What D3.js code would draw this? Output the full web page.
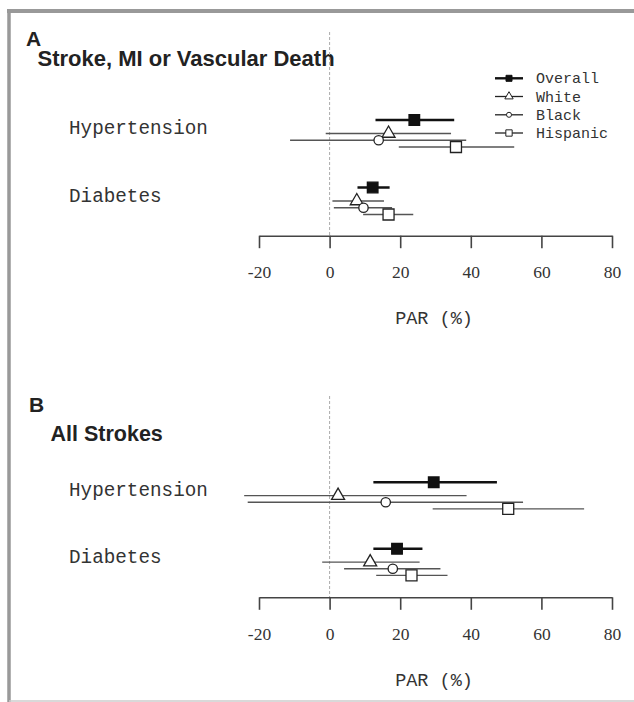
<!DOCTYPE html>
<html><head><meta charset="utf-8">
<script src="https://cdn.jsdelivr.net/npm/d3@7"></script>
<style>html,body{margin:0;padding:0;background:#fff;}svg{display:block;}</style>
</head><body>
<svg id="c" width="634" height="702"></svg>
<script>
// ---- data ----
const categories = ["Hypertension", "Diabetes"];
const groups = ["Overall", "White", "Black", "Hispanic"];
const tickValues = [-20, 0, 20, 40, 60, 80];
const axisLabel = "PAR (%)";
const panelLetters = ["A", "B"];
const panelTitles = ["Stroke, MI or Vascular Death", "All Strokes"];
// Panel A: [Hypertension, Diabetes] per group
const estA  = {Overall:[24.0,12.2], White:[16.7,7.7],  Black:[13.9,9.6],  Hispanic:[35.8,16.7]};
const lowA  = {Overall:[13.0,7.9],  White:[-1.1,0.8],  Black:[-11.2,1.2], Hispanic:[19.6,9.5]};
const highA = {Overall:[35.3,17.0], White:[34.4,15.4], Black:[38.7,17.7], Hispanic:[52.3,23.7]};
// Panel B
const estB  = {Overall:[29.5,19.1], White:[2.4,11.5],   Black:[15.9,17.9],  Hispanic:[50.6,23.2]};
const lowB  = {Overall:[12.4,12.4], White:[-24.2,-2.1], Black:[-23.2,4.1],  Hispanic:[29.2,13.2]};
const highB = {Overall:[47.4,26.3], White:[38.8,25.5],  Black:[54.8,31.4],  Hispanic:[72.1,33.4]};

const svg = d3.select("#c");
const mono = "'Liberation Mono','Courier New',monospace";
const serif = "'Liberation Serif','Times New Roman',serif";
const sans = "'Liberation Sans',Arial,sans-serif";

// frame
svg.append("line").attr("x1",7).attr("x2",634).attr("y1",11).attr("y2",11).attr("stroke","#999").attr("stroke-width",4);
svg.append("line").attr("x1",9).attr("x2",9).attr("y1",9).attr("y2",702).attr("stroke","#999").attr("stroke-width",3.5);
svg.append("line").attr("x1",9).attr("x2",634).attr("y1",701).attr("y2",701).attr("stroke","#ccc").attr("stroke-width",1.5);

const rowIndex = {Overall:0, White:2, Black:3, Hispanic:4};
const catOffset = [0, 10];

const style = {
  Overall:{sym:d3.symbolSquare, size:112, fill:"#111", stroke:"#111", lw:2.6, lc:"#111"},
  White:{sym:d3.symbolTriangle, size:73, fill:"#fff", stroke:"#222", lw:1.4, lc:"#555"},
  Black:{sym:d3.symbolCircle, size:69, fill:"#fff", stroke:"#222", lw:1.4, lc:"#555"},
  Hispanic:{sym:d3.symbolSquare, size:121, fill:"#fff", stroke:"#222", lw:1.4, lc:"#555"}
};

const panels = [
  {est:estA, low:lowA, high:highA, yr:[120,214.5], dashTop:32, axisY:235.7, letter:[26,46], title:[37.5,66], tsize:22, legend:true},
  {est:estB, low:lowB, high:highB, yr:[482.3,575.4], dashTop:396, axisY:597.3, letter:[29,411.5], title:[50.5,440.5], tsize:21.5, legend:false}
];

const x = d3.scaleLinear().domain([-20,80]).range([259,612]);

panels.forEach((p,pi)=>{
  const g = svg.append("g");
  const y = d3.scaleLinear().domain([0,14]).range(p.yr);
  g.append("text").attr("x",p.letter[0]).attr("y",p.letter[1]).attr("font-family",sans).attr("font-weight","bold").attr("font-size",21).attr("fill","#222").text(panelLetters[pi]);
  g.append("text").attr("x",p.title[0]).attr("y",p.title[1]).attr("font-family",sans).attr("font-weight","bold").attr("font-size",p.tsize).attr("fill","#222").text(panelTitles[pi]);
  // dashed zero line
  g.append("line").attr("x1",x(0)).attr("x2",x(0)).attr("y1",p.dashTop).attr("y2",p.axisY).attr("stroke","#aaa").attr("stroke-width",1).attr("stroke-dasharray","3,2");
  // axis
  const ax = d3.axisBottom(x).tickValues(tickValues).tickFormat(d=>String(d)).tickSize(12.5).tickPadding(20).tickSizeOuter(0);
  const axg = g.append("g").attr("transform",`translate(0,${p.axisY})`).call(ax);
  axg.attr("font-family",serif);
  axg.select(".domain").attr("stroke","#444").attr("stroke-width",1.6);
  axg.selectAll(".tick line").attr("stroke","#444").attr("stroke-width",1.6);
  axg.selectAll(".tick text").attr("font-family",serif).attr("font-size",17.5).attr("fill","#333").attr("dy",0).attr("y",42.6);
  g.append("text").attr("x",434).attr("y",p.axisY+88.5).attr("text-anchor","middle").attr("font-family",mono).attr("font-size",18.5).attr("fill","#333").text(axisLabel);
  // category labels
  categories.forEach((c,ci)=>{
    g.append("text").attr("x",69).attr("y",y(catOffset[ci])+14).attr("font-family",mono).attr("font-size",19.3).attr("fill","#333").text(c);
  });
  // CI lines and markers
  groups.forEach(gr=>{
    const s = style[gr];
    categories.forEach((c,ci)=>{
      const yy = y(catOffset[ci]+rowIndex[gr]);
      g.append("line").attr("x1",x(p.low[gr][ci])).attr("x2",x(p.high[gr][ci])).attr("y1",yy).attr("y2",yy).attr("stroke",s.lc).attr("stroke-width",s.lw);
    });
  });
  groups.forEach(gr=>{
    const s = style[gr];
    categories.forEach((c,ci)=>{
      const yy = y(catOffset[ci]+rowIndex[gr]);
      g.append("path").attr("d",d3.symbol().type(s.sym).size(s.size)()).attr("transform",`translate(${x(p.est[gr][ci])},${yy})`).attr("fill",s.fill).attr("stroke",s.stroke).attr("stroke-width",1.3);
    });
  });
  if(p.legend){
    const lg = svg.append("g");
    const base = [83.3,101.5,119.8,138];
    const lsize = {Overall:36, White:30, Black:20, Hispanic:40};
    groups.forEach((gr,i)=>{
      const s = style[gr];
      const ly = base[i]-5;
      lg.append("line").attr("x1",495).attr("x2",523).attr("y1",ly).attr("y2",ly).attr("stroke",s.stroke).attr("stroke-width",gr==="Overall"?2.4:1.3);
      lg.append("path").attr("d",d3.symbol().type(s.sym).size(lsize[gr])()).attr("transform",`translate(509,${ly})`).attr("fill",s.fill).attr("stroke",s.stroke).attr("stroke-width",1);
      lg.append("text").attr("x",536).attr("y",base[i]).attr("font-family",mono).attr("font-size",15).attr("fill","#333").text(gr);
    });
  }
});
</script>
</body></html>
